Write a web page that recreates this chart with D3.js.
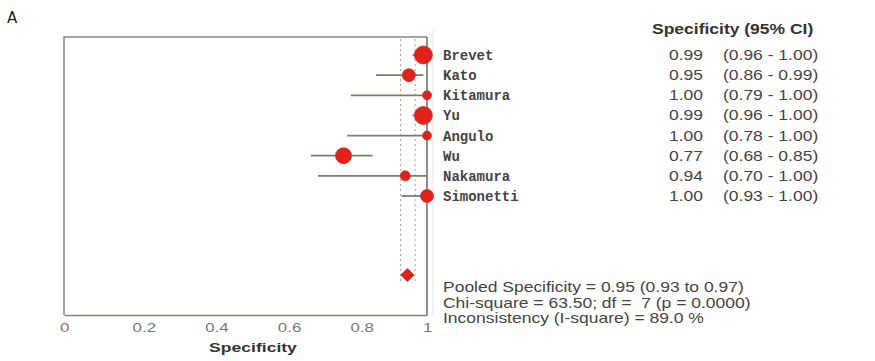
<!DOCTYPE html>
<html>
<head>
<meta charset="utf-8">
<script src="https://cdn.jsdelivr.net/npm/d3@7"></script>
<style>
  body { margin: 0; background: #fff; }
</style>
</head>
<body>
<script>
// study data
var studies = ["Brevet", "Kato", "Kitamura", "Yu", "Angulo", "Wu", "Nakamura", "Simonetti"];
var spec    = [0.99, 0.95, 1.00, 0.99, 1.00, 0.77, 0.94, 1.00];
var lower   = [0.96, 0.86, 0.79, 0.96, 0.78, 0.68, 0.70, 0.93];
var upper   = [1.00, 0.99, 1.00, 1.00, 1.00, 0.85, 1.00, 1.00];
var weights = [10, 5.2, 2.5, 10, 2.5, 7.9, 3.1, 5.2];

// pooled estimate
var pooled = {est: 0.95, lo: 0.93, hi: 0.97};
var statLines = [
    "Pooled Specificity = 0.95 (0.93 to 0.97)",
    "Chi-square = 63.50; df =  7 (p = 0.0000)",
    "Inconsistency (I-square) = 89.0 %"
];
var xTicks = [0, 0.2, 0.4, 0.6, 0.8, 1];

var width = 875, height = 361;
var margin = ({top: 37, left: 64, right: 448, bottom: 46});
var stretch = 1.25; // the original text is drawn wide

var data = studies.map((s, i) => ({name: s, est: spec[i], lo: lower[i], hi: upper[i], w: weights[i]}));

var x = d3.scaleLinear()
    .domain([0, 1])
    .range([margin.left, width - margin.right]);

var y = d3.scaleLinear()
    .domain([0, studies.length - 1])
    .range([55, 196]);

var yPooled = 275;

var r = d3.scaleSqrt()
    .domain([0, d3.max(weights)])
    .range([0, 9]);

const svg = d3.select("body").append("svg")
    .attr("width", width)
    .attr("height", height)
    .attr("font-family", "Arial, Liberation Sans, sans-serif");

var frameColor = "#8c817a";
var bottom = height - margin.bottom;

// wide text helper
function wideText(g, tx, ty, str, sx) {
    return g.append("text")
        .attr("transform", `translate(${tx},${ty}) scale(${sx || stretch},1)`)
        .style("white-space", "pre")
        .text(str);
}

// panel letter
svg.append("text")
    .attr("x", 7).attr("y", 23)
    .attr("font-family", "DejaVu Sans")
    .attr("font-size", 15)
    .attr("fill", "#222")
    .text("A");

// faint line right of frame
svg.append("line")
    .attr("x1", x(1) + 6).attr("x2", x(1) + 6)
    .attr("y1", 30).attr("y2", bottom)
    .attr("stroke", "#e6e6e6");

// pooled CI dotted lines
svg.append("g").selectAll("line").data([pooled.lo, pooled.hi]).enter().append("line")
    .attr("x1", d => x(d) - 1).attr("x2", d => x(d) - 1)
    .attr("y1", margin.top + 2).attr("y2", yPooled + 8)
    .attr("stroke", "#a9a29e")
    .attr("stroke-dasharray", "2,3");

// frame: top, left
svg.append("path")
    .attr("d", `M${x(0)},${bottom} V${margin.top} H${x(1)}`)
    .attr("fill", "none")
    .attr("stroke", frameColor)
    .attr("stroke-width", 1.5);

// line at specificity = 1
svg.append("line")
    .attr("x1", x(1)).attr("x2", x(1))
    .attr("y1", margin.top).attr("y2", bottom)
    .attr("stroke", "#6e6560")
    .attr("stroke-width", 1.5);

// x axis
var xAxis = g => g
    .attr("transform", `translate(0,${bottom})`)
    .call(d3.axisBottom(x).tickValues(xTicks).tickFormat(d3.format("")).tickSize(0).tickSizeOuter(0))
    .call(g => g.select(".domain").attr("stroke", frameColor).attr("stroke-width", 1.5))
    .call(g => g.selectAll(".tick text").remove());

svg.append("g").call(xAxis);

var tickG = svg.append("g")
    .attr("font-size", 13)
    .attr("fill", "#777");
xTicks.forEach(t => wideText(tickG, x(t) - 4, 332, d3.format("")(t), 1.3));

wideText(svg, 253, 352, "Specificity", 1.35)
    .attr("text-anchor", "middle")
    .attr("font-size", 13)
    .attr("font-weight", "bold")
    .attr("fill", "#333");

// CI lines
svg.append("g")
    .selectAll("line").data(data).enter().append("line")
    .attr("x1", d => x(d.lo)).attr("x2", d => x(d.hi))
    .attr("y1", (d, i) => y(i)).attr("y2", (d, i) => y(i))
    .attr("stroke", "#85776f")
    .attr("stroke-width", 1.8);

// points
svg.append("g")
    .selectAll("circle").data(data).enter().append("circle")
    .attr("cx", d => x(d.est))
    .attr("cy", (d, i) => y(i))
    .attr("r", d => r(d.w))
    .attr("fill", "#e3211b")
    .attr("stroke", "#c4362a")
    .attr("stroke-width", 0.8);

// pooled diamond
svg.append("path")
    .attr("transform", `translate(${x(pooled.est) - 1.5},${yPooled}) rotate(45)`)
    .attr("d", d3.symbol(d3.symbolSquare, 82))
    .attr("fill", "#e3211b")
    .attr("stroke", "#c4362a");

// study names
svg.append("g")
    .selectAll("text").data(data).enter().append("text")
    .attr("x", 443)
    .attr("y", (d, i) => y(i) + 5)
    .attr("font-family", "Liberation Mono, DejaVu Sans Mono, monospace")
    .attr("font-size", 14)
    .attr("font-weight", "bold")
    .attr("fill", "#444")
    .text(d => d.name);

// header
wideText(svg, 652, 34, "Specificity (95% CI)")
    .attr("font-size", 14)
    .attr("font-weight", "bold")
    .attr("fill", "#333");

// estimate and CI columns
var colG = svg.append("g")
    .attr("font-size", 14)
    .attr("fill", "#444");
data.forEach((d, i) => {
    wideText(colG, 703, y(i) + 5, d.est.toFixed(2)).attr("text-anchor", "end");
    wideText(colG, 723, y(i) + 5, `(${d.lo.toFixed(2)} - ${d.hi.toFixed(2)})`);
});

// summary stats
var statG = svg.append("g")
    .attr("font-size", 14)
    .attr("fill", "#444");
statLines.forEach((s, i) => wideText(statG, 443, 292 + i * 15.5, s));
</script>
</body>
</html>
